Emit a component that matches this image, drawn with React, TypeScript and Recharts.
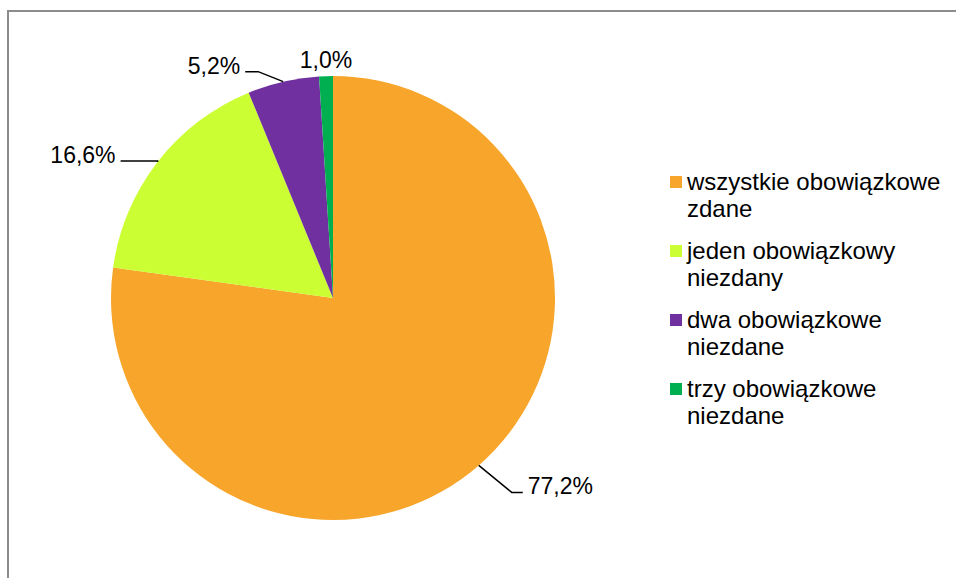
import { PieChart, Pie, Cell, Legend } from 'recharts';

const categories = [
  'wszystkie obowiązkowe zdane',
  'jeden obowiązkowy niezdany',
  'dwa obowiązkowe niezdane',
  'trzy obowiązkowe niezdane',
];
const shares = [77.2, 16.6, 5.2, 1.0];
const colors = ['#F7A52B', '#CCFF33', '#7030A0', '#00B050'];

const data = categories.map((name, i) => ({ name, value: shares[i] }));

// leader line shape per slice: elbow offset from the slice edge, then a short horizontal run
const leaders = [
  { dx: 33, dy: 27, h: 11 },
  { dx: 0, dy: -1, h: 37 },
  { dx: -25, dy: -10, h: 13 },
  null,
];

const RAD = Math.PI / 180;
const font = 'Arial, "Liberation Sans", sans-serif';

const renderLabel = (props: any) => {
  const { cx, cy, midAngle, outerRadius, index, value } = props;
  const ex = cx + outerRadius * Math.cos(-midAngle * RAD);
  const ey = cy + outerRadius * Math.sin(-midAngle * RAD);
  const text = `${Number(value).toFixed(1).replace('.', ',')}%`;
  const leader = leaders[index];
  if (!leader) {
    return (
      <text x={ex} y={ey - 8} textAnchor="middle" fill="#000" fontSize={23} fontFamily={font}>
        {text}
      </text>
    );
  }
  const mx = ex + leader.dx;
  const my = ey + leader.dy;
  const dir = leader.dx > 0 || (leader.dx === 0 && ex > cx) ? 1 : -1;
  const hx = mx + dir * leader.h;
  return (
    <g>
      <polyline
        points={`${ex},${ey} ${mx},${my} ${hx},${my}`}
        fill="none"
        stroke="#000"
        strokeWidth={1.5}
      />
      <text
        x={hx + dir * 5}
        y={my + 2}
        textAnchor={dir > 0 ? 'start' : 'end'}
        fill="#000"
        fontSize={23}
        fontFamily={font}
      >
        {text}
      </text>
    </g>
  );
};

const renderLegend = () => (
  <div style={{ width: 280, fontFamily: font, fontSize: 24, lineHeight: '27px', color: '#000' }}>
    {categories.map((name, i) => (
      <div key={name} style={{ display: 'flex', alignItems: 'flex-start', marginBottom: 15 }}>
        <span
          style={{
            width: 12,
            height: 12,
            background: colors[i],
            marginTop: 8,
            marginRight: 5,
            flexShrink: 0,
          }}
        />
        <span style={{ width: 262 }}>{name}</span>
      </div>
    ))}
  </div>
);

export default function App() {
  return (
    <div style={{ position: 'absolute', left: 0, top: 0, width: 956, height: 578, overflow: 'hidden', background: '#fff' }}>
      <div
        style={{
          position: 'absolute',
          left: 7,
          top: 10,
          width: 1000,
          height: 600,
          borderLeft: '2px solid #8c8c8c',
          borderTop: '2px solid #8c8c8c',
        }}
      />
      <PieChart
        width={956}
        height={578}
        margin={{ top: 0, right: 0, bottom: 0, left: 0 }}
        style={{ position: 'absolute', left: 0, top: 0 }}
      >
        <Pie
          data={data}
          dataKey="value"
          nameKey="name"
          cx={333}
          cy={298}
          outerRadius={222}
          startAngle={90}
          endAngle={-270}
          stroke="none"
          label={renderLabel}
          labelLine={false}
          isAnimationActive={false}
        >
          {data.map((d, i) => (
            <Cell key={d.name} fill={colors[i]} />
          ))}
        </Pie>
        <Legend
          content={renderLegend}
          wrapperStyle={{ left: 670, top: 168, width: 280 }}
        />
      </PieChart>
    </div>
  );
}
